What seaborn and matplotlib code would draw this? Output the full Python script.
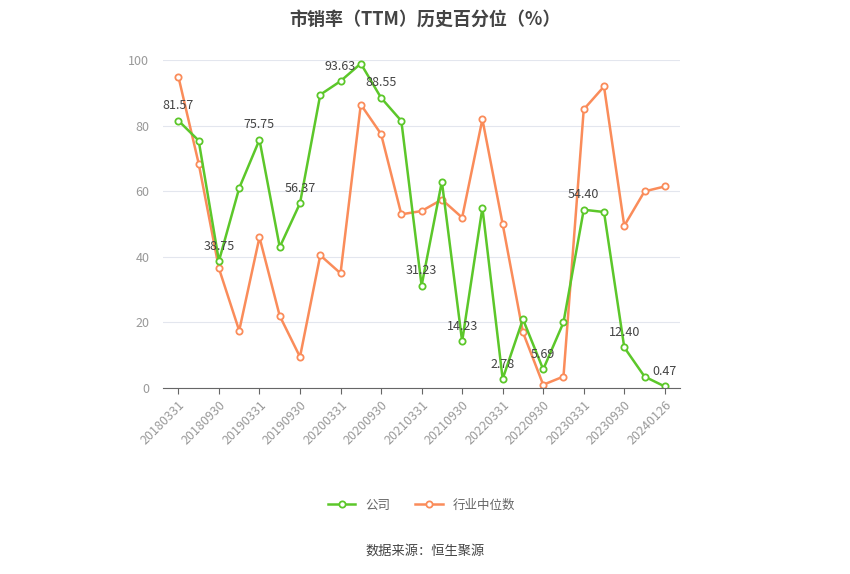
import numpy as np
import pandas as pd
import matplotlib.pyplot as plt
import seaborn as sns

plt.rcParams['font.family'] = ['Noto Sans CJK SC', 'DejaVu Sans']

dates = ['20180331', '20180630', '20180930', '20181231', '20190331', '20190630', '20190930',
         '20191231', '20200331', '20200630', '20200930', '20201231', '20210331', '20210630',
         '20210930', '20211231', '20220331', '20220630', '20220930', '20221231', '20230331',
         '20230630', '20230930', '20231231', '20240126']
company = [81.57, 75.5, 38.75, 61, 75.75, 43, 56.37, 89.5, 93.63, 99, 88.55, 81.5, 31.23,
           63, 14.23, 55, 2.78, 21, 5.69, 20, 54.40, 53.7, 12.40, 3.5, 0.47]
industry = [95, 68.5, 36.5, 17.5, 46, 22, 9.5, 40.5, 35, 86.5, 77.5, 53, 54, 57.5, 52, 82,
            50, 17, 1, 3.5, 85, 92, 49.5, 60, 61.5]

df = pd.DataFrame({'idx': range(len(dates)), 'company': company, 'industry': industry})

fig = plt.figure(figsize=(8.5, 5.74), dpi=100)
ax = fig.add_axes([0.192, 0.324, 0.608, 0.571])

green = '#5cc72a'
orange = '#fa8c5a'
sns.lineplot(data=df, x='idx', y='industry', ax=ax, color=orange, lw=1.8, marker='o',
             markersize=4.5, markerfacecolor='white', markeredgecolor=orange, markeredgewidth=1.3,
             label='行业中位数')
sns.lineplot(data=df, x='idx', y='company', ax=ax, color=green, lw=1.8, marker='o',
             markersize=4.5, markerfacecolor='white', markeredgecolor=green, markeredgewidth=1.3,
             label='公司')

for i in range(0, len(dates), 2):
    ax.annotate(f'{company[i]:.2f}', (i, company[i]), xytext=(0, 6), textcoords='offset points',
                ha='center', va='bottom', fontsize=9, color='#444444')

ax.set_xlim(-0.75, 24.75)
ax.set_ylim(0, 100)
ax.set_yticks(range(0, 101, 20))
ticks = list(range(0, len(dates), 2))
ax.set_xticks(ticks)
ax.set_xticklabels([dates[i] for i in ticks], rotation=45, ha='right', rotation_mode='anchor',
                   fontsize=9, color='#999999')
ax.tick_params(axis='y', length=0, labelsize=9, labelcolor='#999999', pad=10)
ax.tick_params(axis='x', length=4, color='#666666')
ax.grid(axis='y', color='#e3e6ee', lw=0.8)
ax.set_axisbelow(True)
for s in ['top', 'right', 'left']:
    ax.spines[s].set_visible(False)
ax.spines['bottom'].set_color('#666666')
ax.set_xlabel('')
ax.set_ylabel('')

h, l = ax.get_legend_handles_labels()
ax.legend(h[::-1], l[::-1], loc='center', bbox_to_anchor=(0.5, -0.357), ncol=2, frameon=False,
          fontsize=9, labelcolor='#666666', handlelength=2.2, columnspacing=2)

fig.text(0.5, 0.965, '市销率（TTM）历史百分位（%）', ha='center', va='center', fontsize=13,
         fontweight='bold', color='#444444')
fig.text(0.5, 0.04, '数据来源：恒生聚源', ha='center', va='center', fontsize=9.5, color='#444444')

fig.savefig('out.png', dpi=100)
